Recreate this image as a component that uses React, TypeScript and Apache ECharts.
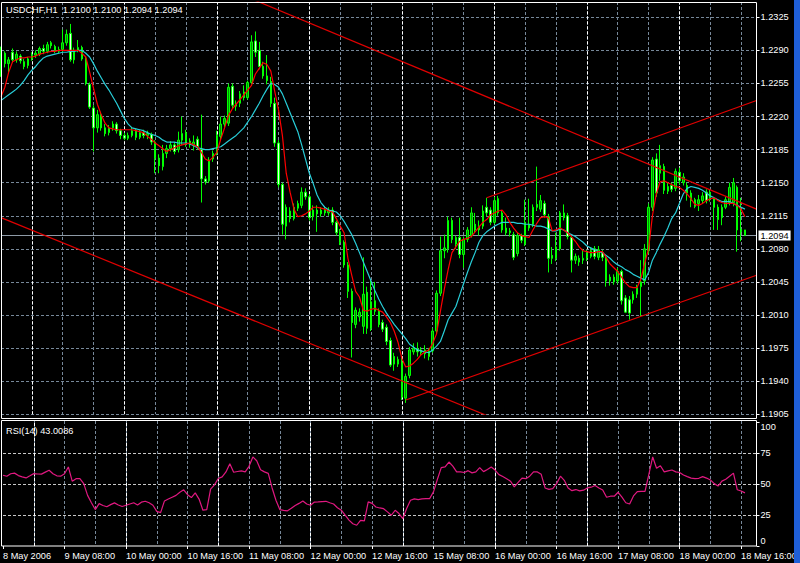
import React, { useEffect, useRef } from "react";
import * as echarts from "echarts";

// ---------- data ----------
const SYMBOL = "USDCHF,H1";
const RSI_NAME = "RSI(14)";
const START_UTC = Date.UTC(2006, 4, 8, 16); // first visible H1 bar
const PAD_BARS = 3; // empty slots right of the last bar
const PRICE_BASE = 1.1905; // lowest price grid level
const PRICE_TOP = 1.23412; // price at top edge of the pane
const PRICE_STEP_PIPS = 35;
const RSI_LEVELS = [25, 50, 75];

// [open, close, low, high]
const CANDLES: number[][] = [
  [1.2266, 1.2288, 1.2262, 1.2294], [1.2287, 1.2276, 1.2272, 1.2289], [1.2276, 1.2280, 1.2267, 1.2283], [1.2288, 1.2280, 1.2277, 1.2292], [1.2280, 1.2286, 1.2277, 1.2289],
  [1.2284, 1.2279, 1.2276, 1.2286], [1.2278, 1.2273, 1.2270, 1.2281], [1.2274, 1.2281, 1.2271, 1.2283], [1.2281, 1.2285, 1.2279, 1.2288], [1.2285, 1.2287, 1.2282, 1.2290],
  [1.2286, 1.2292, 1.2284, 1.2294], [1.2292, 1.2289, 1.2286, 1.2296], [1.2289, 1.2296, 1.2287, 1.2299], [1.2298, 1.2295, 1.2292, 1.2300], [1.2294, 1.2289, 1.2287, 1.2296],
  [1.2289, 1.2291, 1.2287, 1.2294], [1.2291, 1.2298, 1.2288, 1.2312], [1.2298, 1.2307, 1.2295, 1.2312], [1.2308, 1.2280, 1.2278, 1.2318], [1.2280, 1.2290, 1.2276, 1.2293],
  [1.2290, 1.2293, 1.2288, 1.2301], [1.2293, 1.2281, 1.2279, 1.2295], [1.2281, 1.2255, 1.2253, 1.2284], [1.2254, 1.2230, 1.2228, 1.2256], [1.2229, 1.2208, 1.2183, 1.2232],
  [1.2208, 1.2222, 1.2203, 1.2227], [1.2222, 1.2208, 1.2205, 1.2225], [1.2208, 1.2202, 1.2199, 1.2212], [1.2203, 1.2208, 1.2200, 1.2211], [1.2208, 1.2212, 1.2205, 1.2215],
  [1.2212, 1.2205, 1.2202, 1.2214], [1.2205, 1.2200, 1.2196, 1.2207], [1.2200, 1.2197, 1.2195, 1.2203], [1.2197, 1.2200, 1.2195, 1.2203], [1.2200, 1.2205, 1.2198, 1.2209],
  [1.2205, 1.2198, 1.2195, 1.2207], [1.2198, 1.2203, 1.2196, 1.2206], [1.2203, 1.2200, 1.2197, 1.2206], [1.2200, 1.2202, 1.2196, 1.2205], [1.2201, 1.2193, 1.2190, 1.2203],
  [1.2193, 1.2176, 1.2160, 1.2195], [1.2176, 1.2168, 1.2160, 1.2180], [1.2167, 1.2181, 1.2163, 1.2190], [1.2181, 1.2186, 1.2176, 1.2190], [1.2186, 1.2190, 1.2183, 1.2194],
  [1.2190, 1.2183, 1.2180, 1.2193], [1.2185, 1.2195, 1.2182, 1.2204], [1.2195, 1.2202, 1.2190, 1.2220], [1.2203, 1.2193, 1.2188, 1.2206], [1.2194, 1.2190, 1.2187, 1.2197],
  [1.2190, 1.2193, 1.2184, 1.2200], [1.2196, 1.2188, 1.2185, 1.2199], [1.2185, 1.2154, 1.2129, 1.2222], [1.2154, 1.2151, 1.2148, 1.2157], [1.2152, 1.2174, 1.2150, 1.2177],
  [1.2175, 1.2181, 1.2172, 1.2184], [1.2181, 1.2200, 1.2179, 1.2205], [1.2199, 1.2212, 1.2196, 1.2220], [1.2212, 1.2218, 1.2209, 1.2221], [1.2213, 1.2251, 1.2210, 1.2255],
  [1.2252, 1.2232, 1.2228, 1.2255], [1.2231, 1.2234, 1.2226, 1.2237], [1.2234, 1.2244, 1.2230, 1.2247], [1.2246, 1.2240, 1.2237, 1.2253], [1.2240, 1.2256, 1.2238, 1.2258],
  [1.2256, 1.2299, 1.2254, 1.2306], [1.2300, 1.2288, 1.2283, 1.2310], [1.2290, 1.2273, 1.2270, 1.2299], [1.2273, 1.2263, 1.2260, 1.2278], [1.2263, 1.2258, 1.2254, 1.2285],
  [1.2257, 1.2234, 1.2230, 1.2262], [1.2234, 1.2192, 1.2188, 1.2240], [1.2192, 1.2148, 1.2145, 1.2195], [1.2148, 1.2106, 1.2095, 1.2150], [1.2104, 1.2124, 1.2090, 1.2127],
  [1.2120, 1.2112, 1.2108, 1.2124], [1.2112, 1.2124, 1.2110, 1.2128], [1.2123, 1.2128, 1.2120, 1.2131], [1.2126, 1.2140, 1.2123, 1.2145], [1.2140, 1.2135, 1.2132, 1.2144],
  [1.2135, 1.2113, 1.2110, 1.2138], [1.2114, 1.2121, 1.2110, 1.2126], [1.2121, 1.2117, 1.2098, 1.2126], [1.2117, 1.2121, 1.2114, 1.2124], [1.2122, 1.2118, 1.2115, 1.2125],
  [1.2118, 1.2121, 1.2115, 1.2124], [1.2121, 1.2108, 1.2105, 1.2124], [1.2108, 1.2097, 1.2094, 1.2110], [1.2098, 1.2087, 1.2084, 1.2101], [1.2087, 1.2063, 1.2060, 1.2089],
  [1.2063, 1.2035, 1.2028, 1.2066], [1.2035, 1.2002, 1.1965, 1.2038], [1.2000, 1.2015, 1.1996, 1.2018], [1.2008, 1.2013, 1.2003, 1.2017], [1.1998, 1.2032, 1.1990, 1.2071],
  [1.2034, 1.1996, 1.1990, 1.2040], [1.1996, 1.2024, 1.1993, 1.2047], [1.2025, 1.2014, 1.2010, 1.2045], [1.2014, 1.2000, 1.1997, 1.2017], [1.2002, 1.1995, 1.1992, 1.2005],
  [1.1997, 1.1982, 1.1978, 1.2000], [1.1983, 1.1957, 1.1955, 1.1986], [1.1966, 1.1958, 1.1951, 1.1970], [1.1958, 1.1963, 1.1955, 1.1966], [1.1960, 1.1923, 1.1920, 1.1966],
  [1.1922, 1.1945, 1.1917, 1.1948], [1.1946, 1.1973, 1.1943, 1.1976], [1.1971, 1.1975, 1.1968, 1.1980], [1.1974, 1.1971, 1.1966, 1.1981], [1.1970, 1.1973, 1.1967, 1.1976],
  [1.1973, 1.1969, 1.1964, 1.1978], [1.1966, 1.1972, 1.1962, 1.1975], [1.1972, 1.1993, 1.1970, 1.1996], [1.1993, 1.2033, 1.1990, 1.2036], [1.2033, 1.2078, 1.2030, 1.2093],
  [1.2078, 1.2081, 1.2070, 1.2095], [1.2080, 1.2110, 1.2076, 1.2114], [1.2110, 1.2090, 1.2086, 1.2113], [1.2085, 1.2092, 1.2080, 1.2094], [1.2092, 1.2074, 1.2070, 1.2113],
  [1.2074, 1.2090, 1.2060, 1.2093], [1.2090, 1.2100, 1.2087, 1.2103], [1.2094, 1.2118, 1.2092, 1.2124], [1.2106, 1.2100, 1.2097, 1.2118], [1.2100, 1.2104, 1.2094, 1.2110],
  [1.2104, 1.2120, 1.2101, 1.2126], [1.2124, 1.2118, 1.2114, 1.2134], [1.2121, 1.2108, 1.2105, 1.2124], [1.2108, 1.2131, 1.2106, 1.2135], [1.2133, 1.2118, 1.2115, 1.2136],
  [1.2118, 1.2100, 1.2097, 1.2120], [1.2102, 1.2097, 1.2094, 1.2113], [1.2097, 1.2099, 1.2093, 1.2102], [1.2095, 1.2071, 1.2068, 1.2098], [1.2075, 1.2094, 1.2072, 1.2097],
  [1.2094, 1.2089, 1.2086, 1.2096], [1.2085, 1.2108, 1.2083, 1.2132], [1.2106, 1.2102, 1.2099, 1.2133], [1.2106, 1.2124, 1.2103, 1.2127], [1.2127, 1.2124, 1.2120, 1.2167],
  [1.2122, 1.2131, 1.2119, 1.2137], [1.2128, 1.2116, 1.2113, 1.2131], [1.2114, 1.2070, 1.2055, 1.2117], [1.2073, 1.2070, 1.2064, 1.2082], [1.2070, 1.2082, 1.2067, 1.2097],
  [1.2080, 1.2118, 1.2078, 1.2120], [1.2118, 1.2113, 1.2110, 1.2127], [1.2115, 1.2093, 1.2090, 1.2118], [1.2092, 1.2068, 1.2055, 1.2094], [1.2068, 1.2072, 1.2064, 1.2075],
  [1.2070, 1.2066, 1.2062, 1.2073], [1.2068, 1.2070, 1.2064, 1.2080], [1.2070, 1.2076, 1.2067, 1.2079], [1.2072, 1.2078, 1.2070, 1.2081], [1.2080, 1.2072, 1.2069, 1.2083],
  [1.2071, 1.2079, 1.2068, 1.2083], [1.2076, 1.2071, 1.2067, 1.2079], [1.2071, 1.2046, 1.2040, 1.2073], [1.2050, 1.2046, 1.2041, 1.2053], [1.2050, 1.2045, 1.2042, 1.2053],
  [1.2046, 1.2056, 1.2043, 1.2060], [1.2056, 1.2025, 1.2021, 1.2058], [1.2028, 1.2013, 1.2012, 1.2031], [1.2026, 1.2012, 1.2005, 1.2030], [1.2026, 1.2032, 1.2022, 1.2035],
  [1.2032, 1.2039, 1.2028, 1.2042], [1.2040, 1.2045, 1.2008, 1.2068], [1.2046, 1.2080, 1.2042, 1.2085], [1.2078, 1.2124, 1.2075, 1.2128], [1.2124, 1.2174, 1.2120, 1.2177],
  [1.2175, 1.2139, 1.2135, 1.2181], [1.2160, 1.2168, 1.2152, 1.2190], [1.2167, 1.2142, 1.2138, 1.2170], [1.2141, 1.2146, 1.2138, 1.2150], [1.2147, 1.2143, 1.2140, 1.2150],
  [1.2144, 1.2162, 1.2141, 1.2165], [1.2161, 1.2152, 1.2148, 1.2166], [1.2150, 1.2156, 1.2147, 1.2160], [1.2147, 1.2139, 1.2131, 1.2150], [1.2139, 1.2131, 1.2124, 1.2142],
  [1.2132, 1.2125, 1.2123, 1.2134], [1.2128, 1.2132, 1.2120, 1.2137], [1.2131, 1.2136, 1.2128, 1.2140], [1.2140, 1.2131, 1.2128, 1.2143], [1.2133, 1.2140, 1.2130, 1.2143],
  [1.2133, 1.2124, 1.2100, 1.2135], [1.2124, 1.2111, 1.2100, 1.2127], [1.2113, 1.2124, 1.2105, 1.2127], [1.2124, 1.2132, 1.2122, 1.2135], [1.2129, 1.2145, 1.2126, 1.2150],
  [1.2129, 1.2150, 1.2125, 1.2155], [1.2145, 1.2100, 1.2077, 1.2147], [1.2101, 1.2098, 1.2088, 1.2134], [1.2100, 1.2094, 1.2094, 1.2100],
];

// fast moving average (red)
const MA_FAST = [
  1.2241, 1.2251, 1.2267, 1.2278, 1.2280, 1.2282, 1.2282, 1.2283, 1.2283, 1.2284,
  1.2286, 1.2287, 1.2288, 1.2289, 1.2289, 1.2290, 1.2290, 1.2290, 1.2290, 1.2290,
  1.2290, 1.2287, 1.2283, 1.2267, 1.2250, 1.2233, 1.2222, 1.2213, 1.2208, 1.2207,
  1.2206, 1.2206, 1.2206, 1.2206, 1.2206, 1.2205, 1.2204, 1.2203, 1.2199, 1.2196,
  1.2192, 1.2189, 1.2186, 1.2183, 1.2185, 1.2187, 1.2189, 1.2190, 1.2191, 1.2192,
  1.2190, 1.2188, 1.2182, 1.2175, 1.2173, 1.2177, 1.2182, 1.2196, 1.2208, 1.2221,
  1.2228, 1.2233, 1.2238, 1.2243, 1.2248, 1.2253, 1.2265, 1.2271, 1.2277, 1.2275,
  1.2268, 1.2247, 1.2227, 1.2200, 1.2160, 1.2140, 1.2122, 1.2114, 1.2115, 1.2117,
  1.2120, 1.2124, 1.2124, 1.2123, 1.2122, 1.2120, 1.2119, 1.2112, 1.2104, 1.2097,
  1.2070, 1.2052, 1.2035, 1.2029, 1.2015, 1.2014, 1.2016, 1.2017, 1.2015, 1.2013,
  1.2008, 1.2002, 1.1993, 1.1981, 1.1964, 1.1955, 1.1956, 1.1959, 1.1963, 1.1968,
  1.1971, 1.1973, 1.1980, 1.1990, 1.2014, 1.2037, 1.2058, 1.2076, 1.2082, 1.2088,
  1.2090, 1.2091, 1.2093, 1.2098, 1.2103, 1.2108, 1.2111, 1.2116, 1.2118, 1.2120,
  1.2121, 1.2116, 1.2108, 1.2102, 1.2097, 1.2094, 1.2093, 1.2092, 1.2100, 1.2107,
  1.2113, 1.2114, 1.2113, 1.2099, 1.2100, 1.2102, 1.2100, 1.2097, 1.2093, 1.2088,
  1.2082, 1.2078, 1.2077, 1.2076, 1.2076, 1.2077, 1.2077, 1.2071, 1.2064, 1.2060,
  1.2056, 1.2050, 1.2044, 1.2040, 1.2039, 1.2039, 1.2048, 1.2065, 1.2080, 1.2115,
  1.2138, 1.2151, 1.2152, 1.2150, 1.2148, 1.2146, 1.2145, 1.2142, 1.2138, 1.2133,
  1.2127, 1.2126, 1.2128, 1.2131, 1.2133, 1.2134, 1.2131, 1.2129, 1.2128, 1.2128,
  1.2128, 1.2126, 1.2122, 1.2114,
];

// slow moving average (turquoise)
const MA_SLOW = [
  1.2237, 1.2240, 1.2243, 1.2246, 1.2249, 1.2253, 1.2258, 1.2264, 1.2269, 1.2273,
  1.2278, 1.2282, 1.2284, 1.2285, 1.2286, 1.2287, 1.2288, 1.2288, 1.2289, 1.2289,
  1.2290, 1.2290, 1.2287, 1.2283, 1.2276, 1.2268, 1.2261, 1.2254, 1.2248, 1.2241,
  1.2234, 1.2226, 1.2218, 1.2212, 1.2208, 1.2207, 1.2206, 1.2205, 1.2203, 1.2201,
  1.2200, 1.2198, 1.2195, 1.2193, 1.2193, 1.2193, 1.2192, 1.2192, 1.2192, 1.2191,
  1.2189, 1.2187, 1.2186, 1.2185, 1.2185, 1.2186, 1.2187, 1.2188, 1.2191, 1.2194,
  1.2197, 1.2200, 1.2204, 1.2208, 1.2214, 1.2220, 1.2227, 1.2234, 1.2242, 1.2249,
  1.2255, 1.2254, 1.2251, 1.2244, 1.2234, 1.2224, 1.2214, 1.2204, 1.2190, 1.2175,
  1.2160, 1.2149, 1.2137, 1.2129, 1.2124, 1.2121, 1.2120, 1.2119, 1.2115, 1.2109,
  1.2102, 1.2095, 1.2086, 1.2076, 1.2066, 1.2056, 1.2046, 1.2036, 1.2027, 1.2019,
  1.2012, 1.2006, 1.2000, 1.1995, 1.1990, 1.1985, 1.1979, 1.1976, 1.1973, 1.1972,
  1.1971, 1.1970, 1.1973, 1.1977, 1.1982, 1.1993, 1.2005, 1.2012, 1.2019, 1.2031,
  1.2043, 1.2055, 1.2066, 1.2076, 1.2087, 1.2094, 1.2098, 1.2101, 1.2104, 1.2106,
  1.2108, 1.2108, 1.2108, 1.2108, 1.2107, 1.2107, 1.2106, 1.2106, 1.2105, 1.2104,
  1.2104, 1.2103, 1.2101, 1.2099, 1.2099, 1.2101, 1.2100, 1.2097, 1.2095, 1.2093,
  1.2090, 1.2087, 1.2083, 1.2081, 1.2079, 1.2077, 1.2076, 1.2073, 1.2070, 1.2066,
  1.2063, 1.2061, 1.2058, 1.2056, 1.2053, 1.2051, 1.2049, 1.2047, 1.2055, 1.2068,
  1.2076, 1.2085, 1.2093, 1.2102, 1.2112, 1.2118, 1.2128, 1.2138, 1.2144, 1.2146,
  1.2145, 1.2144, 1.2142, 1.2139, 1.2136, 1.2134, 1.2132, 1.2130, 1.2130, 1.2130,
  1.2128, 1.2126, 1.2124, 1.2122,
];

const RSI = [
  57.3, 56.5, 58.5, 59.0, 57.0, 56.0, 55.1, 56.8, 58.6, 58.3,
  58.2, 59.8, 61.3, 58.5, 56.8, 56.5, 58.5, 64.0, 52.5, 54.5,
  54.6, 50.5, 41.0, 35.0, 29.5, 34.3, 32.8, 31.8, 33.5, 34.9,
  33.2, 32.0, 33.0, 34.0, 35.0, 33.2, 35.5, 36.2, 35.0, 33.0,
  28.0, 27.0, 36.5, 38.0, 39.5, 41.0, 43.5, 45.5, 41.5, 39.2,
  43.0, 38.0, 29.0, 29.5, 46.0, 49.5, 54.6, 56.0, 60.0, 66.5,
  59.7, 60.3, 60.8, 60.0, 64.5, 72.1, 69.0, 61.8, 60.0, 58.8,
  47.0, 37.0, 29.5, 28.9, 28.5, 30.5, 32.8, 34.5, 36.5, 34.0,
  33.0, 35.6, 35.7, 36.0, 36.2, 35.0, 34.0, 31.0, 29.0, 25.0,
  21.0, 18.0, 16.8, 20.8, 20.3, 35.7, 34.5, 31.6, 30.8, 30.2,
  27.6, 24.9, 28.9, 26.3, 22.2, 30.3, 37.0, 38.2, 37.6, 38.2,
  38.4, 38.4, 44.0, 54.0, 63.5, 64.0, 68.0, 64.6, 60.0, 60.0,
  59.5, 61.0, 59.2, 60.0, 63.5, 60.2, 62.0, 64.0, 61.5, 57.8,
  56.2, 54.5, 52.5, 47.8, 51.5, 55.0, 54.5, 56.5, 60.0, 60.0,
  58.0, 47.0, 45.8, 46.5, 50.5, 56.5, 53.2, 47.0, 44.8, 45.7,
  44.6, 45.2, 47.0, 47.6, 49.0, 47.0, 45.3, 39.5, 40.3, 40.3,
  43.5, 39.5, 35.0, 34.0, 40.5, 44.0, 44.3, 44.3, 58.0, 72.1,
  63.0, 65.0, 60.0, 60.8, 61.5, 60.0, 59.5, 57.5, 56.2, 55.0,
  54.6, 54.8, 56.2, 55.0, 53.5, 50.5, 48.5, 52.5, 54.0, 56.5,
  59.0, 45.5, 44.5, 43.0086,
];

// trend lines: two anchors each, [barIndex, price]
const TREND_LINES: number[][][] = [
  [[60, 1.2353], [196, 1.2122]],
  [[0, 1.2113], [130, 1.1897]],
  [[105, 1.1920], [196, 1.2052]],
  [[126, 1.2134], [196, 1.2237]],
];

// ---------- helpers ----------
const MONTHS = ["Jan", "Feb", "Mar", "Apr", "May", "Jun", "Jul", "Aug", "Sep", "Oct", "Nov", "Dec"];

function buildTimes(n: number) {
  const out: { label: string; first: string; hour: number }[] = [];
  let t = START_UTC;
  while (out.length < n) {
    const d = new Date(t);
    const wd = d.getUTCDay();
    if (wd !== 0 && wd !== 6) {
      const day = `${d.getUTCDate()} ${MONTHS[d.getUTCMonth()]}`;
      out.push({
        label: `${day} ${String(d.getUTCHours()).padStart(2, "0")}:00`,
        first: `${day} ${d.getUTCFullYear()}`,
        hour: d.getUTCHours(),
      });
    }
    t += 3600000;
  }
  return out;
}

const pip = (p: number) => +((p - PRICE_BASE) * 10000).toFixed(2);
const FONT = "Liberation Sans";
const FS = 9.2;
const GRID_COLOR = "#778899";

function buildOption() {
  const n = CANDLES.length;
  const times = buildTimes(n);
  const cats = [...times.map((t) => t.label)];
  for (let i = 0; i < PAD_BARS; i++) cats.push(`pad${i}`);
  const daySeps = times.map((t, i) => (t.hour === 0 && i > 0 ? i : -1)).filter((i) => i > 0);
  const last = CANDLES[n - 1];
  const [lo, lc, ll, lh] = last;
  const labelEvery = (i: number) => i % 16 === 0 && i < n;
  const gridEvery = (i: number) => i > 0 && i % 8 === 0;

  const sepLines = daySeps.map((i) => ({
    xAxis: cats[i],
    lineStyle: { color: "#ffffff", type: [3, 2], width: 1 },
    label: { show: false },
  }));

  const vSplit = {
    show: true,
    interval: gridEvery,
    lineStyle: { color: GRID_COLOR, type: [3, 2], width: 1 },
  };

  return {
    backgroundColor: "#000000",
    animation: false,
    textStyle: { fontFamily: FONT },
    title: [
      {
        text: `${SYMBOL}  ${lo.toFixed(4)} ${lh.toFixed(4)} ${ll.toFixed(4)} ${lc.toFixed(4)}`,
        left: 6,
        top: 5,
        padding: 0,
        textStyle: { color: "#ffffff", fontSize: FS, fontWeight: "normal", fontFamily: FONT },
      },
      {
        text: `${RSI_NAME} ${RSI[n - 1].toFixed(4)}`,
        left: 6,
        top: 426,
        padding: 0,
        textStyle: { color: "#ffffff", fontSize: FS, fontWeight: "normal", fontFamily: FONT },
      },
    ],
    grid: [
      { left: 1, top: 2, width: 755.5, height: 412.2, show: false },
      { left: 1, top: 421, width: 755.5, height: 125, show: false },
    ],
    xAxis: [
      {
        type: "category",
        gridIndex: 0,
        data: cats,
        boundaryGap: false,
        axisLine: { show: false },
        axisTick: { show: false },
        axisLabel: { show: false },
        splitLine: vSplit,
      },
      {
        type: "category",
        gridIndex: 1,
        data: cats,
        boundaryGap: false,
        axisLine: { show: false },
        axisTick: { show: true, interval: labelEvery, length: 3, lineStyle: { color: "#ffffff" } },
        axisLabel: {
          show: true,
          interval: labelEvery,
          color: "#ffffff",
          fontSize: FS,
          fontFamily: FONT,
          align: "left",
          margin: 5,
          formatter: (v: string, i: number) => (i === 0 ? times[0].first : v),
        },
        splitLine: vSplit,
      },
    ],
    yAxis: [
      {
        type: "value",
        gridIndex: 0,
        position: "right",
        min: 0,
        max: pip(PRICE_TOP),
        interval: PRICE_STEP_PIPS,
        axisLine: { show: false },
        axisTick: { show: true, length: 3, lineStyle: { color: "#ffffff" } },
        axisLabel: {
          color: "#ffffff",
          fontSize: FS,
          fontFamily: FONT,
          margin: 4,
          showMaxLabel: false,
          formatter: (v: number) => (PRICE_BASE + v / 10000).toFixed(4),
        },
        splitLine: {
          show: true,
          showMaxLine: false,
          lineStyle: { color: GRID_COLOR, type: [3, 2], width: 1 },
        },
      },
      {
        type: "value",
        gridIndex: 1,
        position: "right",
        min: 0,
        max: 101.2,
        interval: 25,
        axisLine: { show: false },
        axisTick: { show: true, length: 3, lineStyle: { color: "#ffffff" } },
        axisLabel: {
          color: "#ffffff",
          fontSize: FS,
          fontFamily: FONT,
          margin: 4,
          showMaxLabel: false,
          formatter: (v: number) => (v === 100 ? "{t|100}" : v === 0 ? "{b|0}" : String(v)),
          rich: {
            t: { color: "#ffffff", fontSize: FS, fontFamily: FONT, padding: [9, 0, 0, 0] },
            b: { color: "#ffffff", fontSize: FS, fontFamily: FONT, padding: [0, 0, 10, 0] },
          },
        },
        splitLine: { show: false },
      },
    ],
    series: [
      {
        type: "candlestick",
        xAxisIndex: 0,
        yAxisIndex: 0,
        barWidth: 2,
        data: CANDLES.map((c) => c.map(pip)),
        itemStyle: {
          color: "#009000",
          color0: "#e8ffe8",
          borderColor: "#00ff00",
          borderColor0: "#00ff00",
          borderWidth: 1,
        },
        z: 3,
        markLine: {
          silent: true,
          symbol: ["none", "none"],
          animation: false,
          z: 1,
          data: [
            ...sepLines,
            {
              yAxis: pip(lc),
              lineStyle: { color: "#8e9aa6", type: "solid", width: 1 },
              label: {
                show: true,
                position: "end",
                distance: 2,
                formatter: () => lc.toFixed(4),
                backgroundColor: "#ffffff",
                color: "#000000",
                padding: [1, 2, 0, 2],
                fontSize: FS,
                fontFamily: FONT,
              },
            },
          ],
        },
      },
      {
        type: "line",
        xAxisIndex: 0,
        yAxisIndex: 0,
        data: MA_SLOW.map(pip),
        showSymbol: false,
        symbol: "none",
        lineStyle: { color: "#28cdd8", width: 1.2 },
        z: 4,
      },
      {
        type: "line",
        xAxisIndex: 0,
        yAxisIndex: 0,
        data: MA_FAST.map(pip),
        showSymbol: false,
        symbol: "none",
        lineStyle: { color: "#ff0000", width: 1.2 },
        z: 5,
      },
      ...TREND_LINES.map((ln) => ({
        type: "line",
        xAxisIndex: 0,
        yAxisIndex: 0,
        data: ln.map(([x, p]) => [x, pip(p)]),
        showSymbol: false,
        symbol: "none",
        clip: true,
        lineStyle: { color: "#e00000", width: 1.2 },
        z: 6,
      })),
      {
        type: "line",
        xAxisIndex: 1,
        yAxisIndex: 1,
        data: RSI,
        showSymbol: false,
        symbol: "none",
        lineStyle: { color: "#e01880", width: 1.2 },
        z: 4,
        markLine: {
          silent: true,
          symbol: ["none", "none"],
          animation: false,
          z: 1,
          data: [
            ...RSI_LEVELS.map((v) => ({
              yAxis: v,
              lineStyle: { color: "#c8c8c8", type: [3, 2], width: 1 },
              label: { show: false },
            })),
            ...sepLines,
          ],
        },
      },
    ],
    graphic: [
      {
        type: "rect",
        silent: true,
        z: 50,
        shape: { x: 1.5, y: 2.5, width: 755, height: 416 },
        style: { fill: "none", stroke: "#ffffff", lineWidth: 1 },
      },
      {
        type: "rect",
        silent: true,
        z: 50,
        shape: { x: 1.5, y: 420.5, width: 755, height: 125.5 },
        style: { fill: "none", stroke: "#ffffff", lineWidth: 1 },
      },
      {
        type: "rect",
        silent: true,
        z: 100,
        shape: { x: 794, y: 0, width: 6, height: 563 },
        style: { fill: "#1f5fd8" },
      },
    ],
  };
}

export default function App() {
  const ref = useRef<HTMLDivElement>(null);
  useEffect(() => {
    if (!ref.current) return;
    const chart = echarts.init(ref.current, undefined, { renderer: "svg" });
    chart.setOption(buildOption() as any);
    return () => chart.dispose();
  }, []);
  return (
    <div
      ref={ref}
      style={{ position: "fixed", left: 0, top: 0, width: 800, height: 563, background: "#000" }}
    />
  );
}
